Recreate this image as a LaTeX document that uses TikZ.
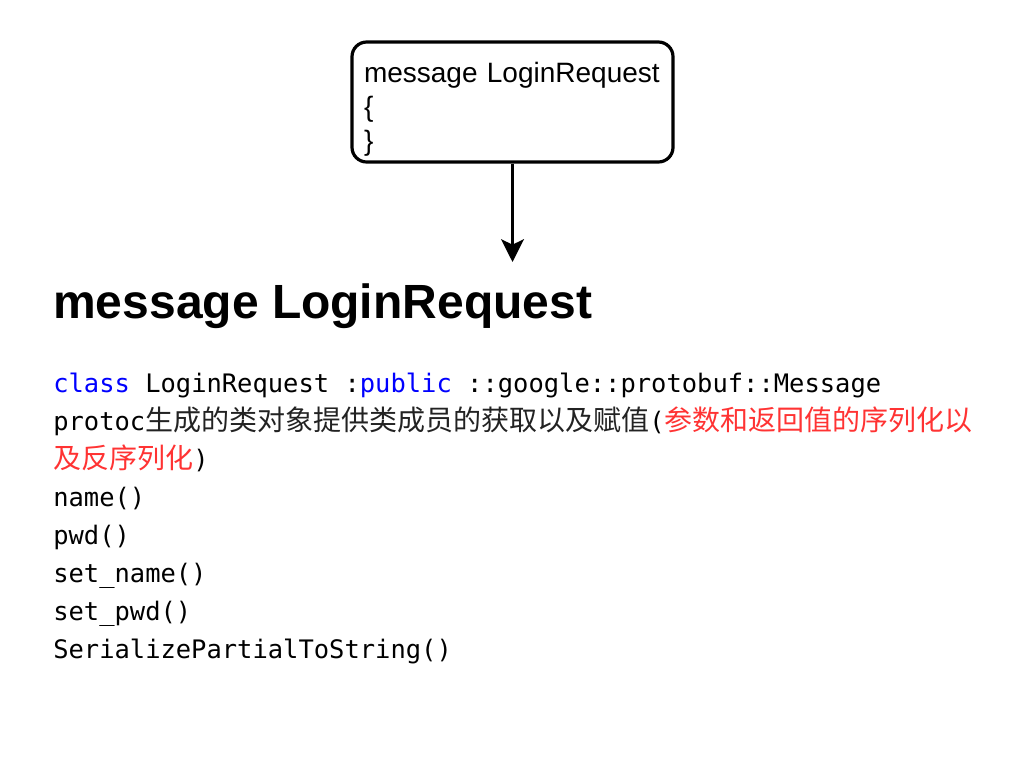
\documentclass[tikz,border=0pt]{standalone}
\usepackage{fontspec}
\setmainfont{Liberation Sans}
\newfontfamily\codefont{DejaVu Sans Mono}
\newfontfamily\cjk{Noto Sans CJK SC}
\usetikzlibrary{arrows.meta}
\definecolor{kwblue}{HTML}{0000FF}
\definecolor{notered}{HTML}{FF3333}
\definecolor{zhgray}{HTML}{222222}
\newcommand{\cd}[1]{{\codefont\fontsize{19.1pt}{28pt}\selectfont #1}}
\newcommand{\zh}[1]{{\cjk\fontsize{21pt}{28pt}\selectfont #1}}
\tikzset{
  msgbox/.style={draw, line width=2.4pt, rounded corners=11pt, align=left,
    text width=297*0.75pt, inner xsep=9pt, minimum height=90pt,
    font=\fontsize{21pt}{25.5pt}\selectfont},
  codeline/.style={anchor=base west, inner sep=0pt},
  heading/.style={anchor=base west, inner sep=0pt, font=\bfseries\fontsize{36pt}{40pt}\selectfont},
  flow/.style={line width=2.4pt, -{Stealth[length=17pt, width=17pt, inset=4pt]}}
}
\begin{document}
\begin{tikzpicture}[x=0.75pt,y=-0.75pt]
\useasboundingbox (0,0) rectangle (1024,764);
\node[msgbox] (box) at (512.5,102) {\rule{0pt}{26.5pt}message LoginRequest\\\{\\\}};
\coordinate (tip) at (512.5,262);
\draw[flow] (box.south) -- (tip);
\node[heading] (head) at (53,318) {message LoginRequest};
\node[codeline] (l1) at (53,392) {\cd{\textcolor{kwblue}{class} LoginRequest :\textcolor{kwblue}{public} ::google::protobuf::Message}};
\node[codeline] (l2) at (53,430) {\cd{protoc}\zh{\textcolor{zhgray}{生成的类对象提供类成员的获取以及赋值}}\cd{(}\zh{\textcolor{notered}{参数和返回值的序列化以}}};
\node[codeline] (l3) at (53,468) {\zh{\textcolor{notered}{及反序列化}}\cd{)}};
\node[codeline] (l4) at (53,506) {\cd{name()}};
\node[codeline] (l5) at (53,544) {\cd{pwd()}};
\node[codeline] (l6) at (53,582) {\cd{set\_name()}};
\node[codeline] (l7) at (53,620) {\cd{set\_pwd()}};
\node[codeline] (l8) at (53,658) {\cd{SerializePartialToString()}};
\end{tikzpicture}
\end{document}
